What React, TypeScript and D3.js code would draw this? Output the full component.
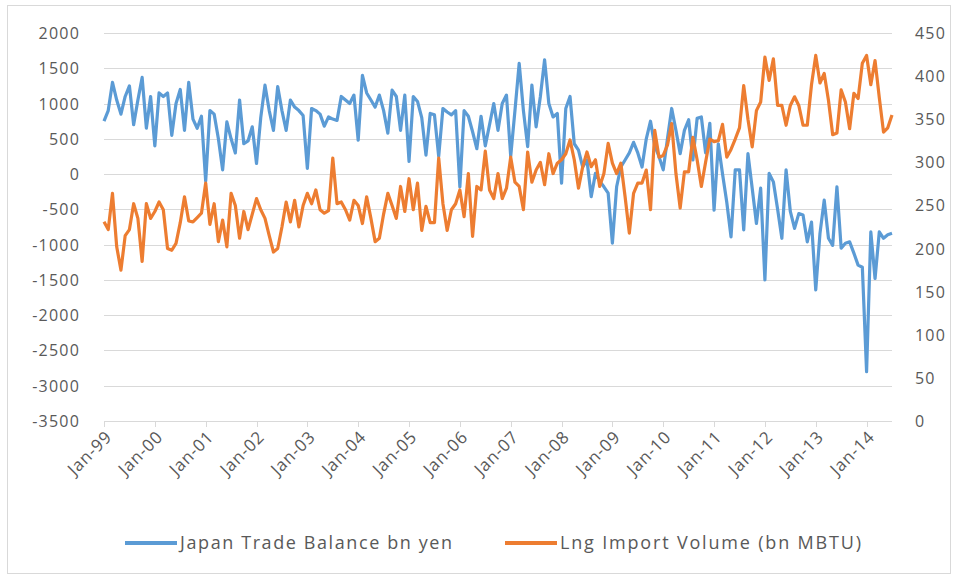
import React from 'react';
import * as d3 from 'd3';

const tradeBalance: number[] = [
  750, 900, 1300, 1050, 850, 1100, 1250, 700, 1050, 1370, 650, 1100,
  400, 1150, 1100, 1150, 550, 1000, 1200, 620, 1300, 780, 650, 820,
  -100, 900, 850, 500, 60, 740, 500, 300, 1050, 430, 470, 670,
  150, 800, 1260, 900, 620, 1240, 900, 620, 1050, 950, 900, 830,
  80, 930, 900, 850, 680, 810, 780, 760, 1100, 1050, 1000, 1120,
  480, 1400, 1150, 1050, 950, 1120, 900, 580, 1190, 1100, 620, 1120,
  180, 1100, 1030, 800, 270, 860, 840, 250, 930, 880, 840, 900,
  -180, 900, 820, 600, 360, 820, 400, 700, 1000, 620, 1000, 1120,
  250, 900, 1570, 900, 390, 1260, 670, 1100, 1620, 1000, 810, 860,
  -130, 930, 1100, 430, 340, 100, 200, -320, 10, -100, -180, -270,
  -980, -180, 100, 200, 300, 450, 300, 100, 500, 750, 400, 250,
  60, 500, 930, 620, 290, 620, 770, 200, 790, 810, 300, 720,
  -510, 430, 0, -400, -890, 60, 60, -790, 290, -200, -700, -200,
  -1500, 10, -110, -500, -910, 60, -530, -770, -560, -580, -960, -680,
  -1640, -840, -370, -910, -1010, -180, -1050, -980, -960, -1120, -1290, -1320,
  -2800, -820, -1480, -820, -910, -860, -840,
];

const lngImport: number[] = [
  231, 222, 264, 202, 175, 215, 222, 252, 235, 185, 252, 235,
  243, 254, 245, 200, 198, 206, 230, 260, 232, 231, 236, 241,
  276, 228, 252, 208, 233, 202, 264, 250, 212, 243, 222, 240,
  258, 245, 235, 215, 196, 200, 225, 254, 231, 256, 225, 250,
  264, 252, 268, 245, 241, 244, 305, 252, 254, 245, 233, 256,
  250, 229, 260, 235, 208, 212, 240, 264, 250, 235, 272, 243,
  281, 245, 276, 221, 249, 230, 230, 305, 252, 221, 245, 252,
  268, 237, 287, 214, 272, 268, 313, 268, 258, 287, 258, 270,
  306, 277, 272, 245, 312, 277, 291, 300, 274, 310, 287, 299,
  303, 310, 326, 303, 270, 295, 312, 295, 303, 272, 287, 322,
  299, 287, 299, 260, 218, 264, 276, 276, 291, 245, 337, 306,
  308, 320, 345, 287, 247, 289, 289, 329, 303, 272, 300, 327,
  324, 325, 344, 306, 315, 327, 340, 389, 350, 318, 360, 370,
  422, 395, 420, 366, 366, 343, 366, 376, 366, 343, 343, 390,
  424, 392, 403, 372, 332, 334, 384, 370, 339, 380, 374, 415,
  424, 390, 418, 375, 335, 340, 355,
];

const yearLabels: string[] = [
  'Jan-99', 'Jan-00', 'Jan-01', 'Jan-02', 'Jan-03', 'Jan-04', 'Jan-05', 'Jan-06',
  'Jan-07', 'Jan-08', 'Jan-09', 'Jan-10', 'Jan-11', 'Jan-12', 'Jan-13', 'Jan-14',
];

const leftTicks: number[] = [2000, 1500, 1000, 500, 0, -500, -1000, -1500, -2000, -2500, -3000, -3500];
const rightTicks: number[] = [450, 400, 350, 300, 250, 200, 150, 100, 50, 0];

const seriesNames: string[] = ['Japan Trade Balance bn yen', 'Lng Import Volume (bn MBTU)'];

const BLUE = '#5B9BD5';
const ORANGE = '#ED7D31';
const TEXT = '#595959';
const GRID = '#D9D9D9';
const FONT = "'Open Sans', 'Liberation Sans', sans-serif";

export default function App() {
  const W = 957;
  const H = 578;
  const x = d3.scaleLinear().domain([0, tradeBalance.length - 1]).range([104, 892]);
  const yL = d3.scaleLinear().domain([-3500, 2000]).range([421, 33]);
  const yR = d3.scaleLinear().domain([0, 450]).range([421, 33]);

  const lineL = d3.line<number>().x((_, i) => x(i)).y((d) => yL(d));
  const lineR = d3.line<number>().x((_, i) => x(i)).y((d) => yR(d));

  return (
    <svg width={W} height={H} style={{ position: 'absolute', left: 0, top: 0, background: '#fff' }}>
      <rect x={0} y={0} width={W} height={H} fill="#fff" />
      <rect x={7.5} y={5.5} width={943} height={568} fill="none" stroke={GRID} strokeWidth={1} />
      {leftTicks.map((t) => (
        <line key={'g' + t} x1={104} x2={892} y1={Math.round(yL(t)) + 0.5} y2={Math.round(yL(t)) + 0.5}
          stroke={GRID} strokeWidth={1} />
      ))}
      {yearLabels.map((lab, k) => {
        const xi = Math.round(x(k * 12)) + 0.5;
        return <line key={'t' + lab} x1={xi} x2={xi} y1={421} y2={427} stroke={GRID} strokeWidth={1} />;
      })}
      {leftTicks.map((t) => (
        <text key={'l' + t} x={80} y={yL(t) + 6} textAnchor="end" fontFamily={FONT} fontSize={16}
          letterSpacing={1.2} fill={TEXT}>{t}</text>
      ))}
      {rightTicks.map((t) => (
        <text key={'r' + t} x={915} y={yR(t) + 6} textAnchor="start" fontFamily={FONT} fontSize={16}
          letterSpacing={1.2} fill={TEXT}>{t}</text>
      ))}
      {yearLabels.map((lab, k) => {
        const xi = x(k * 12);
        return (
          <text key={'x' + lab} transform={`translate(${xi + 9},${438}) rotate(-45)`} textAnchor="end"
            fontFamily={FONT} fontSize={17} letterSpacing={0.8} fill={TEXT}>{lab}</text>
        );
      })}
      <path d={lineL(tradeBalance) || ''} fill="none" stroke={BLUE} strokeWidth={3.2} strokeLinejoin="round" />
      <path d={lineR(lngImport) || ''} fill="none" stroke={ORANGE} strokeWidth={3.2} strokeLinejoin="round" />
      <line x1={125} x2={177} y1={543} y2={543} stroke={BLUE} strokeWidth={4} />
      <text x={180} y={549} fontFamily={FONT} fontSize={18} fill={TEXT} textLength={272}
        lengthAdjust="spacing">{seriesNames[0]}</text>
      <line x1={505} x2={557} y1={543} y2={543} stroke={ORANGE} strokeWidth={4} />
      <text x={560} y={549} fontFamily={FONT} fontSize={18} fill={TEXT} textLength={301}
        lengthAdjust="spacing">{seriesNames[1]}</text>
    </svg>
  );
}
